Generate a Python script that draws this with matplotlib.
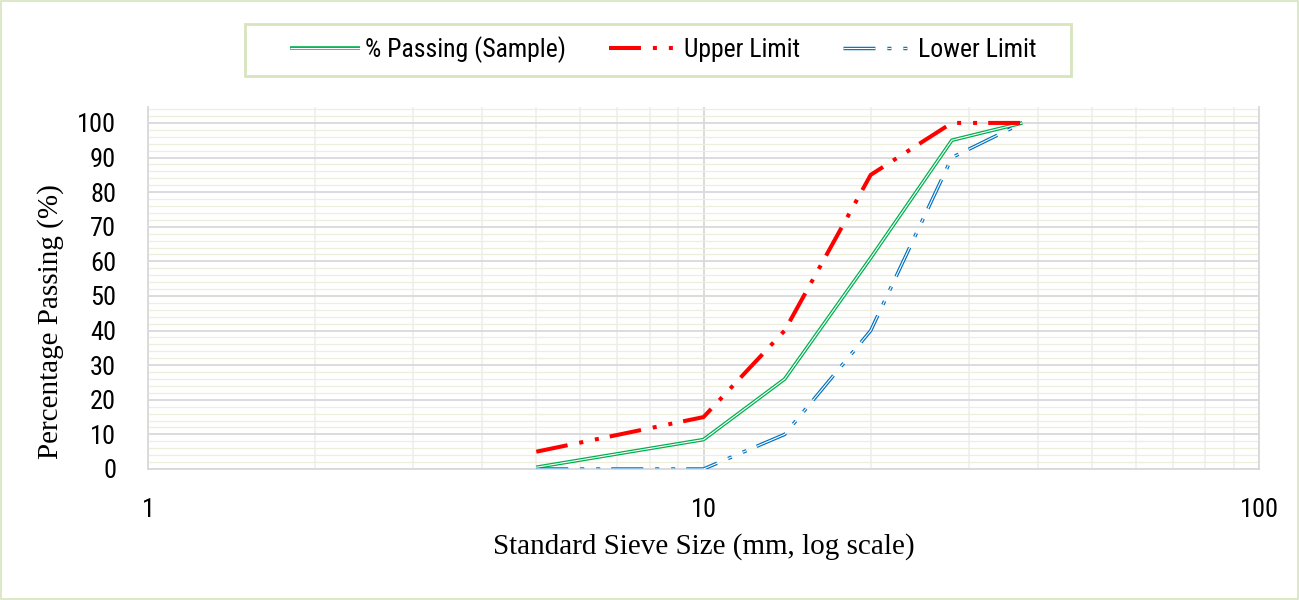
import matplotlib
matplotlib.use("Agg")
import matplotlib.pyplot as plt
from matplotlib.legend_handler import HandlerTuple
from matplotlib.patches import Rectangle
from matplotlib.ticker import FixedLocator, NullFormatter
import numpy as np

plt.rcParams['lines.scale_dashes'] = False

sieve_mm = [5, 10, 14, 20, 28, 37.5]
sample = [0.5, 8.5, 26, 61, 95, 100]
upper = [5, 15, 40, 85, 100, 100]
lower = [0, 0, 10, 40, 90, 100]
y_ticks = list(range(0, 101, 10))
x_ticks = [1, 10, 100]
x_ticklabels = ["1", "10", "100"]

narrow = ['Roboto Condensed', 'Roboto', 'DejaVu Sans']
serif = ['Liberation Serif', 'DejaVu Serif']

W, H = 1299, 600
fig = plt.figure(figsize=(W / 100, H / 100), dpi=100)
ax = fig.add_axes([148 / W, 1 - 469 / H, (1259 - 148) / W, (469 - 107) / H])

ax.set_xscale('log')
ax.set_xlim(1, 100)
ax.set_ylim(0, 104.6)

ax.set_yticks(y_ticks)
ax.yaxis.set_minor_locator(FixedLocator([v for v in np.arange(0, 105, 2) if v % 10 != 0]))
ax.set_xticks(x_ticks)
ax.set_xticklabels(x_ticklabels)
ax.xaxis.set_minor_locator(FixedLocator([k * d for d in (1, 10) for k in range(2, 10)]))
ax.xaxis.set_minor_formatter(NullFormatter())

ax.grid(which='major', axis='both', color='#D9D9D9', lw=1.3, zorder=0)
ax.grid(which='minor', axis='y', color='#EEEEDC', lw=0.9, zorder=0)
ax.grid(which='minor', axis='x', color='#F0F0F0', lw=1.3, zorder=0)
ax.set_axisbelow(True)

ax.tick_params(which='both', length=0)
ax.tick_params(axis='y', pad=23)
ax.tick_params(axis='x', pad=21)
for lab in ax.get_xticklabels() + ax.get_yticklabels():
    lab.set_fontfamily(narrow)
    lab.set_fontsize(19)

ax.spines['top'].set_visible(False)
for s in ['left', 'right', 'bottom']:
    ax.spines[s].set_color('#D9D9D9')
    ax.spines[s].set_linewidth(1.3)

dash = (0, (23, 8.6, 2.9, 8.6, 2.9, 8))

g1, = ax.plot(sieve_mm, sample, color='#00B050', lw=2.6, solid_capstyle='butt', zorder=3)
g2, = ax.plot(sieve_mm, sample, color='white', lw=0.8, solid_capstyle='butt', zorder=4)
r1, = ax.plot(sieve_mm, upper, color='#FF0000', lw=2.9, linestyle=dash,
              dash_capstyle='butt', zorder=5)
b1, = ax.plot(sieve_mm, lower, color='#0070C0', lw=2.5, linestyle=dash,
              dash_capstyle='butt', zorder=3)
b2, = ax.plot(sieve_mm, lower, color='white', lw=0.8, linestyle=dash,
              dash_capstyle='butt', zorder=4)

ax.set_xlabel("Standard Sieve Size (mm, log scale)", fontfamily=serif, fontsize=21, labelpad=8)
fig.text(51 / W, 1 - 322 / H, "Percentage Passing (%)", rotation=90, ha='center', va='center',
         fontfamily=serif, fontsize=21)

leg = fig.legend([(g1, g2), r1, (b1, b2)],
                 ["% Passing (Sample)", "Upper Limit", "Lower Limit"],
                 handler_map={tuple: HandlerTuple(ndivide=1)},
                 loc='center', bbox_to_anchor=(663 / W, 1 - 50 / H), ncol=3,
                 prop={'family': narrow, 'size': 18.5}, frameon=False,
                 handlelength=2.72, handletextpad=0.2, columnspacing=1.67)

fig.patches.append(Rectangle((245 / W, 1 - 76 / H), (1071 - 245) / W, 52 / H,
                             transform=fig.transFigure, fill=False,
                             edgecolor='#D7E4BD', lw=2))
fig.patches.append(Rectangle((0.001, 0.001), 0.998, 0.998, transform=fig.transFigure,
                             fill=False, edgecolor='#D7E4BD', lw=1.2))

fig.savefig("out.png", dpi=100)
